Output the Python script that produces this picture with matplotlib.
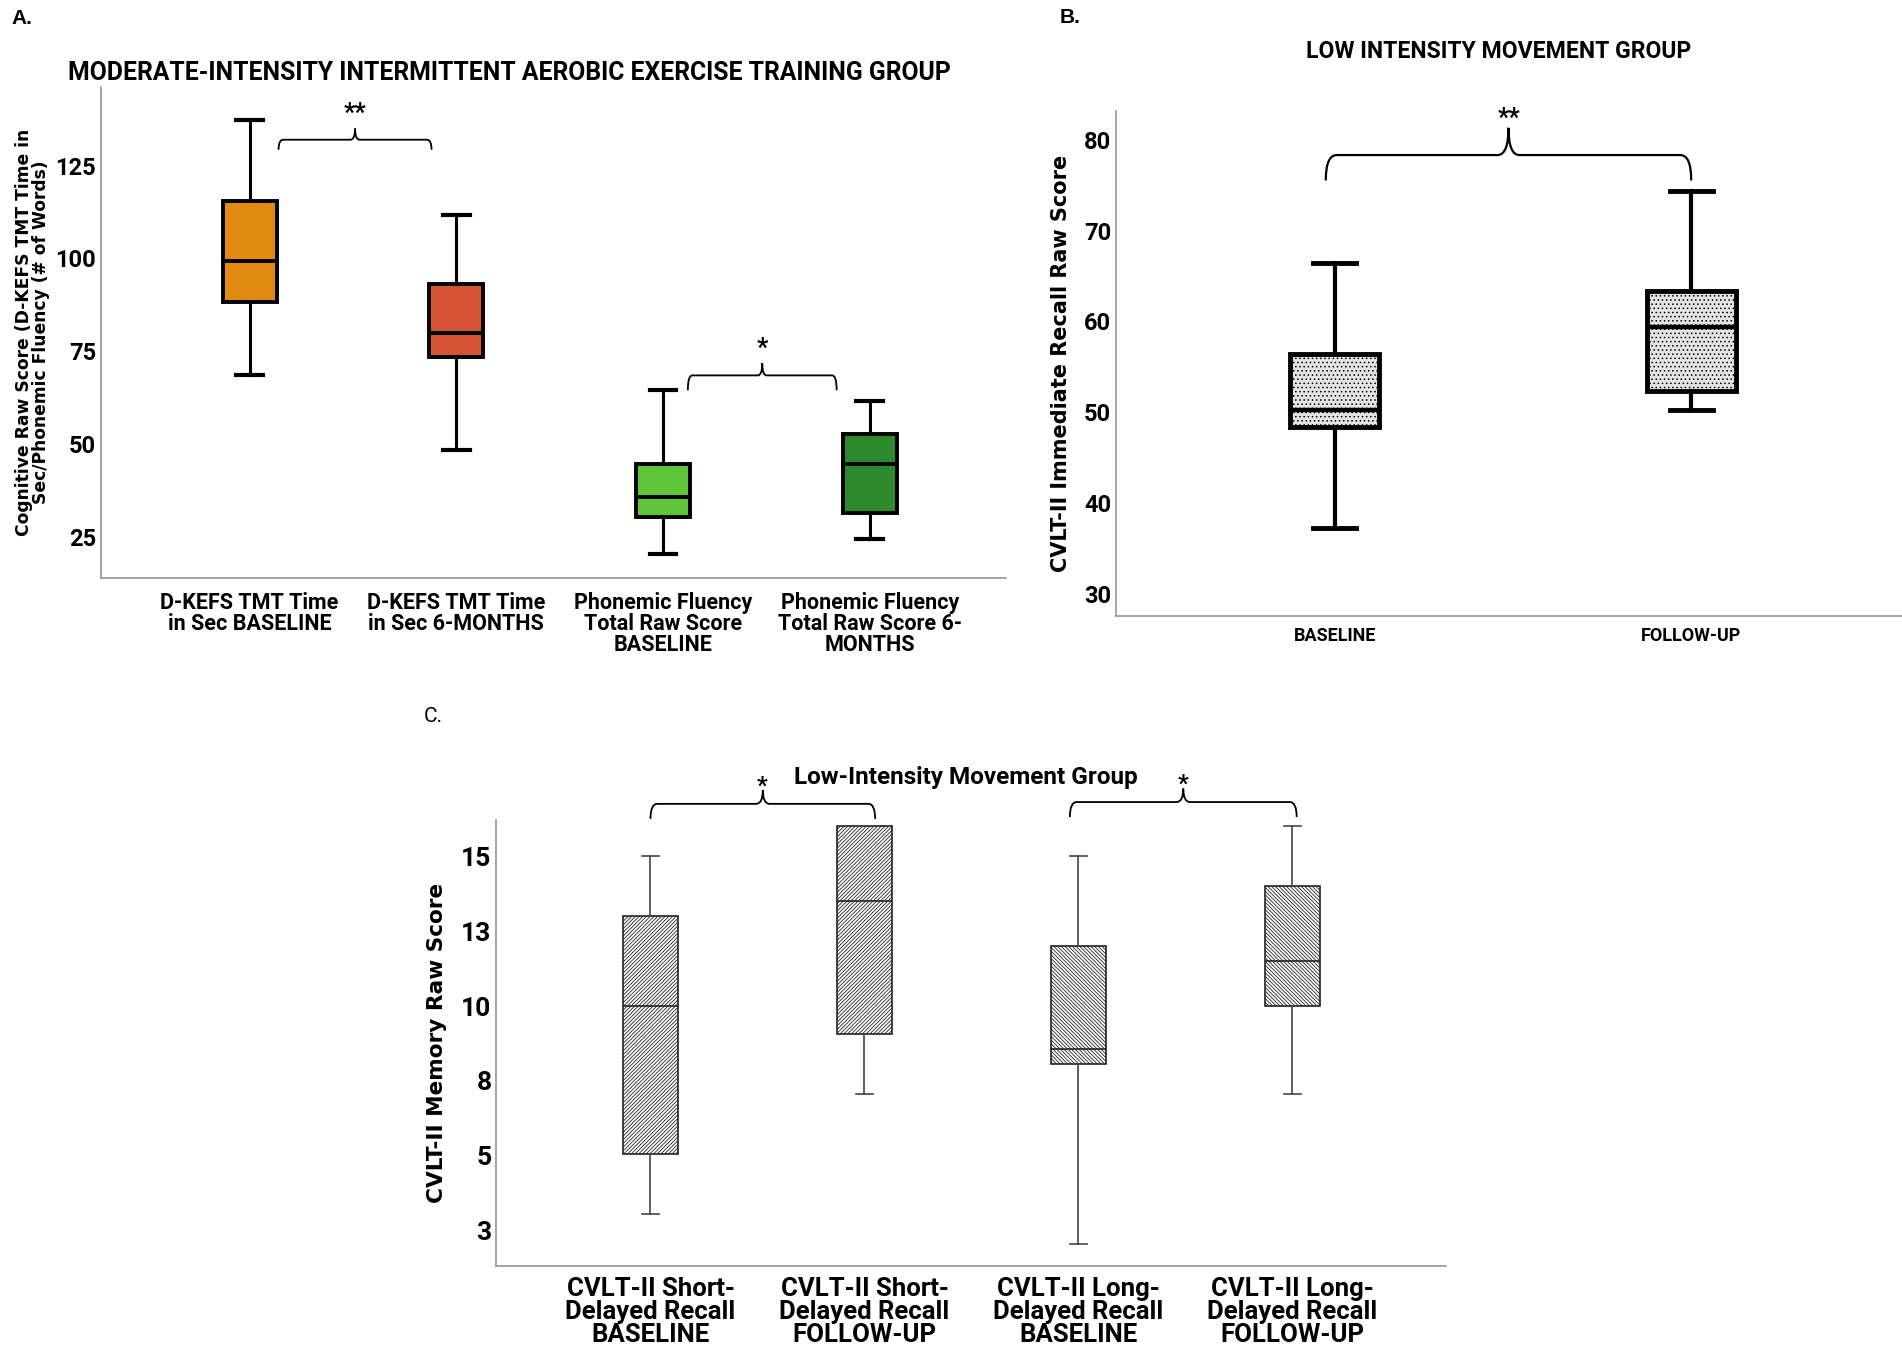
import matplotlib
matplotlib.use("Agg")
import matplotlib.pyplot as plt
from matplotlib.path import Path
from matplotlib.patches import PathPatch

# condensed-looking font for most of the text, wide bold font for the y labels
COND = ["Liberation Sans Narrow", "Roboto", "DejaVu Sans"]
WIDE = ["DejaVu Sans"]

# ---- panel A data (five number summaries)
a_labels = ["D-KEFS TMT Time\nin Sec BASELINE", "D-KEFS TMT Time\nin Sec 6-MONTHS",
            "Phonemic Fluency\nTotal Raw Score\nBASELINE", "Phonemic Fluency\nTotal Raw Score 6-\nMONTHS"]
a_low = [68.7, 48.4, 20.4, 24.3]
a_q1 = [88.4, 73.4, 30.4, 31.4]
a_med = [99.3, 80.0, 35.7, 44.6]
a_q3 = [115.4, 93.1, 44.7, 52.6]
a_high = [137.2, 111.8, 64.6, 61.5]
a_colors = ["#E08A10", "#D35434", "#5EC43A", "#2C8A2C"]
a_yticks = [25, 50, 75, 100, 125]

# ---- panel B data
b_labels = ["BASELINE", "FOLLOW-UP"]
b_low = [37.3, 50.3]
b_q1 = [48.4, 52.4]
b_med = [50.3, 59.4]
b_q3 = [56.4, 63.4]
b_high = [66.4, 74.3]
b_yticks = [30, 40, 50, 60, 70, 80]

# ---- panel C data
c_labels = ["CVLT-II Short-\nDelayed Recall\nBASELINE", "CVLT-II Short-\nDelayed Recall\nFOLLOW-UP",
            "CVLT-II Long-\nDelayed Recall\nBASELINE", "CVLT-II Long-\nDelayed Recall\nFOLLOW-UP"]
c_low = [3.05, 7.05, 2.05, 7.05]
c_q1 = [5.05, 9.05, 8.05, 10.0]
c_med = [10.0, 13.5, 8.55, 11.5]
c_q3 = [13.0, 16.0, 12.0, 14.0]
c_high = [15.0, 16.0, 15.0, 16.0]
c_hatches = ["/////////", "/////////", "\\\\\\\\\\\\\\\\\\", "\\\\\\\\\\\\\\\\\\"]
c_yticks = [2.5, 5, 7.5, 10, 12.5, 15]
c_yticklabels = ["3", "5", "8", "10", "13", "15"]

plt.rcParams["hatch.linewidth"] = 0.6


def stats(low, q1, med, q3, high):
    return [dict(whislo=l, q1=a, med=m, q3=b, whishi=h, fliers=[])
            for l, a, m, b, h in zip(low, q1, med, q3, high)]


def brace(ax, x0, x1, y, yend, ytip, lw=1.3):
    xm = (x0 + x1) / 2
    rx = (x1 - x0) * 0.03
    verts = [(x0, yend), (x0, y), (x0 + rx, y), (xm - rx, y), (xm, y), (xm, ytip),
             (xm, ytip), (xm, y), (xm + rx, y), (x1 - rx, y), (x1, y), (x1, yend)]
    codes = [Path.MOVETO, Path.CURVE3, Path.CURVE3, Path.LINETO, Path.CURVE3, Path.CURVE3,
             Path.MOVETO, Path.CURVE3, Path.CURVE3, Path.LINETO, Path.CURVE3, Path.CURVE3]
    ax.add_patch(PathPatch(Path(verts, codes), fill=False, lw=lw, color="black", clip_on=False))


def style_axes(ax):
    for s in ["top", "right"]:
        ax.spines[s].set_visible(False)
    for s in ["left", "bottom"]:
        ax.spines[s].set_color("#8c8c8c")
        ax.spines[s].set_linewidth(1.1)
    ax.tick_params(length=0)


fig = plt.figure(figsize=(19.02, 13.49), dpi=100)

# ================= Panel A
axA = fig.add_axes([0.053, 0.5715, 0.476, 0.364])
bp = axA.bxp(stats(a_low, a_q1, a_med, a_q3, a_high), positions=[1, 2, 3, 4], widths=0.26,
             patch_artist=True, showfliers=False,
             boxprops=dict(lw=2.8, edgecolor="black"), medianprops=dict(lw=2.8, color="black"),
             whiskerprops=dict(lw=2.2), capprops=dict(lw=3.0), capwidths=0.13)
for patch, c in zip(bp["boxes"], a_colors):
    patch.set_facecolor(c)
axA.set_xlim(0.28, 4.66)
axA.set_ylim(13.9, 146.2)
axA.set_yticks(a_yticks)
axA.set_yticklabels([str(v) for v in a_yticks], family=COND, fontsize=17, fontweight="bold")
axA.set_xticks([1, 2, 3, 4])
axA.set_xticklabels(a_labels, family=COND, fontsize=15.5, fontweight="bold", linespacing=0.95, va="top")
axA.tick_params(axis="x", pad=10)
axA.set_ylabel("Cognitive Raw Score (D-KEFS TMT Time in\nSec/Phonemic Fluency (# of Words)",
               family=WIDE, fontsize=12.3, fontweight="bold", linespacing=0.9, labelpad=4)
style_axes(axA)
brace(axA, 1.14, 1.88, 132.0, 129.3, 135.0)
axA.text(1.51, 135.8, "**", ha="center", va="bottom", fontsize=18, fontweight="bold", family=COND)
brace(axA, 3.12, 3.84, 68.5, 64.5, 71.8)
axA.text(3.48, 72.4, "*", ha="center", va="bottom", fontsize=18, fontweight="bold", family=COND)
fig.text(0.268, 0.946, "MODERATE-INTENSITY INTERMITTENT AEROBIC EXERCISE TRAINING GROUP",
         ha="center", va="center", family=COND, fontsize=17.8, fontweight="bold")
fig.text(0.006, 0.986, "A.", ha="left", va="center", family=["Liberation Sans"], fontsize=15, fontweight="bold")

# ================= Panel B
axB = fig.add_axes([0.5868, 0.5434, 0.413, 0.374])
bp = axB.bxp(stats(b_low, b_q1, b_med, b_q3, b_high), positions=[1, 2], widths=0.25,
             patch_artist=True, showfliers=False,
             boxprops=dict(lw=3.5, edgecolor="black"), medianprops=dict(lw=3.2, color="black"),
             whiskerprops=dict(lw=3.0), capprops=dict(lw=3.5), capwidths=0.12)
for patch in bp["boxes"]:
    patch.set_facecolor("#e4e4e4")
    patch.set_hatch("....")
    patch.set_edgecolor("black")
axB.set_xlim(0.387, 2.59)
axB.set_ylim(27.6, 83.1)
axB.set_yticks(b_yticks)
axB.set_yticklabels([str(v) for v in b_yticks], family=COND, fontsize=17, fontweight="bold")
axB.set_xticks([1, 2])
axB.set_xticklabels(b_labels, family=COND, fontsize=13, fontweight="bold")
axB.tick_params(axis="x", pad=8)
axB.set_ylabel("CVLT-II Immediate Recall Raw Score", family=WIDE, fontsize=15, fontweight="bold", labelpad=9)
style_axes(axB)
brace(axB, 0.975, 2.0, 78.3, 75.5, 81.3, lw=1.6)
axB.text(1.49, 81.0, "**", ha="center", va="bottom", fontsize=18, fontweight="bold", family=COND)
fig.text(0.788, 0.962, "LOW INTENSITY MOVEMENT GROUP", ha="center", va="center",
         family=COND, fontsize=16.6, fontweight="bold")
fig.text(0.557, 0.987, "B.", ha="left", va="center", family=["Liberation Sans"], fontsize=15, fontweight="bold")

# ================= Panel C
axC = fig.add_axes([0.261, 0.0615, 0.4995, 0.3306])
bp = axC.bxp(stats(c_low, c_q1, c_med, c_q3, c_high), positions=[1, 2, 3, 4], widths=0.255,
             patch_artist=True, showfliers=False,
             boxprops=dict(lw=1.2, edgecolor="#222222"), medianprops=dict(lw=1.2, color="#222222"),
             whiskerprops=dict(lw=1.2, color="#444444"), capprops=dict(lw=1.2, color="#444444"),
             capwidths=0.08)
for patch, h in zip(bp["boxes"], c_hatches):
    patch.set_facecolor("white")
    patch.set_hatch(h)
axC.set_xlim(0.28, 4.72)
axC.set_ylim(1.33, 16.2)
axC.set_yticks(c_yticks)
axC.set_yticklabels(c_yticklabels, family=COND, fontsize=19, fontweight="bold")
axC.set_xticks([1, 2, 3, 4])
axC.set_xticklabels(c_labels, family=COND, fontsize=18.5, fontweight="bold", linespacing=0.95)
axC.tick_params(axis="x", pad=8)
axC.set_ylabel("CVLT-II Memory Raw Score", family=WIDE, fontsize=15.6, fontweight="bold", labelpad=10)
style_axes(axC)
brace(axC, 1.0, 2.05, 16.74, 16.24, 17.2)
axC.text(1.52, 16.95, "*", ha="center", va="bottom", fontsize=17, fontweight="bold", family=COND)
brace(axC, 2.96, 4.02, 16.8, 16.3, 17.25)
axC.text(3.49, 17.0, "*", ha="center", va="bottom", fontsize=17, fontweight="bold", family=COND)
fig.text(0.508, 0.424, "Low-Intensity Movement Group", ha="center", va="center",
         family=COND, fontsize=17.5, fontweight="bold")
fig.text(0.223, 0.469, "C.", ha="left", va="center", family=COND, fontsize=15)

fig.savefig("out.png", dpi=100)
